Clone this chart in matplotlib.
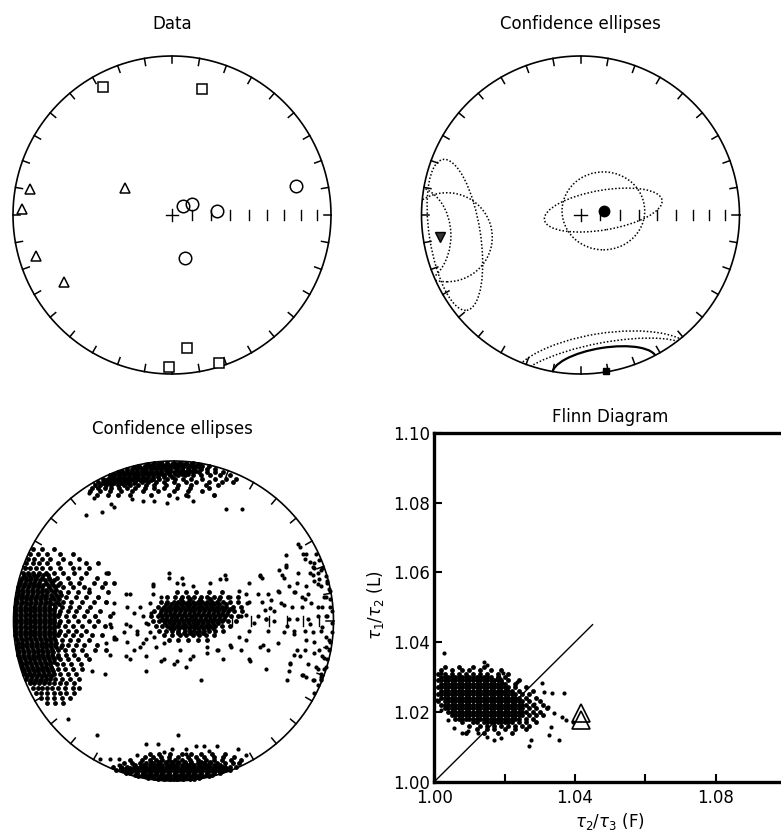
import numpy as np
import matplotlib
matplotlib.use("Agg")
import matplotlib.pyplot as plt
from matplotlib.patches import Ellipse, Circle

plt.rcParams['font.family'] = ['DejaVu Sans']

W, H = 781, 839

# ---------------- Panel 1: data (equal-area coords, primitive radius = 100) ----
V1_U = [-43.4, 19.1, 9.2, -1.9, 29.6]
V1_V = [80.3, 79.0, -83.9, -95.6, -92.9]
V2_U = [-89.1, -94.5, -29.4, -85.7, -68.1]
V2_V = [16.2, 3.6, 17.2, -25.6, -42.1]
V3_U = [78.0, 7.1, 12.4, 28.3, 8.4]
V3_V = [18.2, 5.7, 7.1, 2.5, -26.8]

# ---------------- Panel 2: means and confidence ellipses -----------------------
MEAN_V1 = (15.8, -98.1)
MEAN_V2 = (-88.4, -14.0)
MEAN_V3 = (14.8, 2.7)
ELL_CX = [14.4, 14.3, -79.0, -84.0, -105.0, 14.0, 14.0, 15.0]
ELL_CY = [2.6, 3.1, -12.5, -14.0, -13.0, -96.0, -96.0, -95.0]
ELL_W = [52, 75, 32, 57, 47, 116, 112, 66]
ELL_H = [49, 25, 96, 56, 62, 43, 31, 23]
ELL_ANG = [0, 9.6, 9, 0, 0, 9, 11, 9]
ELL_STYLE = ['dotted'] * 7 + ['solid']

# ---------------- Panel 3: bootstrap eigenvectors (rows: v, [u...]) -----------
TOP_ROWS = [
    (99, [-12, -8, -4, 0, 4, 8, 12]),
    (97, [-22, -18, -15, -12, -9, -6, -3, 0, 3, 6, 10, 14, 18, 22]),
    (95, [-29, -26, -23, -20, -17, -14, -11, -8, -5, -2, 2, 5, 9, 13, 17, 21, 26]),
    (93, [-35, -32, -29, -26, -23, -20, -17, -14, -11, -8, -4, 0, 4, 8, 12, 16, 21, 26, 31]),
    (91, [-40, -37, -34, -31, -28, -25, -22, -19, -16, -13, -10, -6, -2, 3, 7, 12, 17, 23, 29, 35]),
    (89, [-44, -41, -38, -35, -32, -29, -26, -23, -20, -17, -13, -9, -4, 1, 6, 11, 18, 26, 33, 39]),
    (87, [-47, -44, -41, -38, -35, -31, -28, -24, -20, -16, -11, -6, 0, 8, 14, 22, 30, 37]),
    (85, [-49, -46, -42, -39, -35, -31, -27, -22, -17, -12, -5, 3, 11, 20, 28]),
    (83, [-51, -47, -43, -39, -34, -29, -24, -18, -12, -6, 2, 10, 22]),
    (81, [-52, -46, -40, -33, -26, -19, -10, 0, 9, 18]),
    (79, [-48, -41, -35, -27, -14, -3, 8, 25]),
]
TOP_CORE = [
    (98, [-16, -13, -10, -7, -4, -1, 2, 5, 8, 11, 15]),
    (96, [-25, -21, -18, -15, -12, -9, -6, -3, 0, 3, 6, 9, 12, 16]),
    (94, [-32, -29, -26, -23, -20, -17, -14, -11, -8, -5, -2, 2, 6, 10, 14]),
    (92, [-37, -34, -31, -28, -25, -22, -19, -16, -13, -10, -7, -3, 1, 5, 9]),
    (90, [-40, -37, -34, -31, -28, -25, -22, -19, -16, -13, -10, -6, -1]),
    (88, [-42, -39, -36, -33, -30, -27, -24, -21, -18, -14]),
    (86, [-44, -40, -37, -33, -29, -25]),
]
BOTTOM_ROWS = [
    (-99, [-10, -6, -2, 2, 6, 10, 13]),
    (-97, [-22, -18, -14, -10, -6, -2, 2, 6, 10, 14, 18, 22]),
    (-95, [-30, -27, -23, -19, -15, -11, -7, -3, 1, 5, 9, 13, 17, 21, 25, 29]),
    (-93, [-36, -32, -28, -24, -20, -16, -12, -8, -4, 0, 4, 8, 12, 16, 20, 24, 28, 32, 35]),
    (-91, [-38, -33, -29, -25, -21, -17, -13, -9, -5, -1, 3, 7, 11, 15, 19, 23, 27, 31, 35, 39]),
    (-89, [-31, -26, -21, -17, -13, -9, -5, -1, 3, 7, 11, 15, 19, 23, 27, 32, 37, 41]),
    (-87, [-27, -20, -15, -11, -7, -3, 1, 5, 10, 15, 20, 25, 30, 36, 42]),
    (-85, [-18, -13, -8, -3, 3, 9, 14, 19, 25, 31, 38]),
    (-83, [-15, -9, -2, 5, 11, 17, 24, 32]),
]
BOTTOM_CORE = [
    (-98, [-16, -12, -8, -4, 0, 4, 8, 12, 16]),
    (-96, [-24, -20, -16, -12, -8, -4, 0, 4, 8, 12, 16, 20, 24]),
    (-94, [-30, -26, -22, -18, -14, -10, -6, -2, 2, 6, 10, 14, 18, 22, 26, 30]),
    (-92, [-32, -27, -23, -19, -15, -11, -7, -3, 1, 5, 9, 13, 17, 21, 25, 29, 33]),
    (-90, [-24, -19, -15, -11, -7, -3, 1, 5, 9, 13, 17, 21, 25, 29]),
    (-88, [-14, -9, -5, -1, 3, 7, 11, 17, 23]),
]
LEFT_ROWS = [
    (45, [-88, -82, -75]),
    (42, [-90, -85, -79, -71, -63]),
    (39, [-91, -87, -82, -77, -69, -59]),
    (36, [-92, -88, -84, -79, -72, -65, -55, -47]),
    (33, [-93, -90, -86, -82, -77, -71, -63, -53]),
    (30, [-94, -91, -88, -84, -80, -75, -69, -62, -55, -41]),
    (27, [-95, -92, -89, -86, -82, -78, -73, -66, -58, -48]),
    (24, [-96, -93, -90, -87, -84, -80, -76, -71, -65, -59, -50, -43, -37]),
    (21, [-97, -94, -91, -88, -85, -82, -78, -74, -69, -63, -56, -45]),
    (18, [-97, -94, -91, -88, -85, -82, -79, -75, -71, -66, -60, -53, -41]),
    (15, [-98, -95, -92, -89, -86, -83, -80, -76, -72, -67, -61, -55, -47]),
    (12, [-98, -95, -92, -89, -86, -83, -80, -77, -73, -69, -64, -57, -50, -42]),
    (9, [-99, -96, -93, -90, -87, -84, -81, -78, -74, -70, -65, -59, -52]),
    (6, [-99, -96, -93, -90, -87, -84, -81, -78, -75, -71, -66, -61, -54, -46]),
    (3, [-99, -96, -93, -90, -87, -84, -81, -78, -75, -72, -67, -62, -56, -49, -40]),
    (0, [-99, -96, -93, -90, -87, -84, -81, -78, -75, -71, -66, -60, -53, -47]),
    (-3, [-99, -96, -93, -90, -87, -84, -81, -78, -75, -72, -68, -63, -57, -50, -43]),
    (-6, [-99, -96, -93, -90, -87, -84, -81, -78, -75, -71, -66, -61, -55]),
    (-9, [-99, -96, -93, -90, -87, -84, -81, -78, -75, -72, -68, -63, -58, -51, -45]),
    (-12, [-98, -95, -92, -89, -86, -83, -80, -77, -74, -70, -65, -60, -53]),
    (-15, [-98, -95, -92, -89, -86, -83, -80, -77, -74, -70, -66, -61, -56, -48]),
    (-18, [-97, -94, -91, -88, -85, -82, -79, -76, -72, -68, -63, -57, -49, -42]),
    (-21, [-97, -94, -91, -88, -85, -82, -79, -76, -72, -67, -62, -55]),
    (-24, [-96, -93, -90, -87, -84, -81, -78, -75, -71, -66, -60, -53]),
    (-27, [-95, -92, -89, -86, -83, -80, -77, -73, -69, -64, -58]),
    (-30, [-94, -91, -88, -85, -82, -79, -76, -72, -68, -63, -57]),
    (-33, [-93, -90, -87, -84, -81, -78, -75, -71, -66, -61]),
    (-36, [-92, -89, -86, -83, -80, -77, -74, -70, -65, -59]),
    (-39, [-90, -87, -84, -81, -78, -75, -71, -67, -62]),
    (-42, [-88, -85, -82, -79, -76, -72, -68, -63, -59]),
    (-45, [-86, -83, -79, -75, -71, -67, -62]),
    (-48, [-83, -79, -75, -70, -65]),
    (-51, [-79, -74, -69]),
]
LEFT_CORE = [
    (28.5, [-93.5, -90.5, -87.5, -84.5, -81.5, -78.5]),
    (25.5, [-95.5, -92.5, -89.5, -86.5, -83.5, -80.5, -77.5, -74.5]),
    (22.5, [-96.5, -93.5, -90.5, -87.5, -84.5, -81.5, -78.5, -75.5, -72.5]),
    (19.5, [-97.5, -94.5, -91.5, -88.5, -85.5, -82.5, -79.5, -76.5, -73.5]),
    (16.5, [-97.5, -94.5, -91.5, -88.5, -85.5, -82.5, -79.5, -76.5, -73.5, -70.5]),
    (13.5, [-98.5, -95.5, -92.5, -89.5, -86.5, -83.5, -80.5, -77.5, -74.5, -71.5]),
    (10.5, [-98.5, -95.5, -92.5, -89.5, -86.5, -83.5, -80.5, -77.5, -74.5, -71.5]),
    (7.5, [-98.5, -95.5, -92.5, -89.5, -86.5, -83.5, -80.5, -77.5, -74.5]),
    (4.5, [-98.5, -95.5, -92.5, -89.5, -86.5, -83.5, -80.5, -77.5, -74.5, -71.5]),
    (1.5, [-98.5, -95.5, -92.5, -89.5, -86.5, -83.5, -80.5, -77.5, -74.5]),
    (-1.5, [-98.5, -95.5, -92.5, -89.5, -86.5, -83.5, -80.5, -77.5, -74.5, -71.5]),
    (-4.5, [-98.5, -95.5, -92.5, -89.5, -86.5, -83.5, -80.5, -77.5, -74.5]),
    (-7.5, [-98.5, -95.5, -92.5, -89.5, -86.5, -83.5, -80.5, -77.5, -74.5, -71.5]),
    (-10.5, [-98.5, -95.5, -92.5, -89.5, -86.5, -83.5, -80.5, -77.5, -74.5]),
    (-13.5, [-97.5, -94.5, -91.5, -88.5, -85.5, -82.5, -79.5, -76.5, -73.5]),
    (-16.5, [-97.5, -94.5, -91.5, -88.5, -85.5, -82.5, -79.5, -76.5, -73.5, -70.5]),
    (-19.5, [-96.5, -93.5, -90.5, -87.5, -84.5, -81.5, -78.5, -75.5]),
    (-22.5, [-96.5, -93.5, -90.5, -87.5, -84.5, -81.5, -78.5, -75.5, -72.5]),
    (-25.5, [-95.5, -92.5, -89.5, -86.5, -83.5, -80.5, -77.5, -74.5]),
    (-28.5, [-94.5, -91.5, -88.5, -85.5, -82.5, -79.5, -76.5]),
    (-31.5, [-93.5, -90.5, -87.5, -84.5, -81.5, -78.5, -75.5]),
    (-34.5, [-91.5, -88.5, -85.5, -82.5, -79.5, -76.5]),
    (-37.5, [-89.5, -86.5, -83.5, -80.5]),
]
MID_ROWS = [
    (18, [2, 8, 14, 22, 30]),
    (15, [-4, 1, 5, 9, 13, 17, 21, 25, 29, 34, 40]),
    (12, [-8, -4, 0, 3, 6, 9, 12, 15, 18, 21, 24, 27, 31, 35, 40]),
    (9, [-10, -6, -3, 0, 3, 6, 9, 12, 15, 18, 21, 24, 27, 30, 33, 37, 42]),
    (6, [-12, -8, -5, -2, 1, 4, 7, 10, 13, 16, 19, 22, 25, 28, 31, 34, 38, 43]),
    (3, [-14, -10, -7, -4, -1, 2, 5, 8, 11, 14, 17, 20, 23, 26, 29, 32, 36, 40]),
    (0, [-13, -9, -6, -3, 0, 3, 6, 9, 12, 15, 18, 21, 24, 27, 30, 34, 39]),
    (-3, [-11, -7, -4, -1, 2, 5, 8, 11, 14, 17, 20, 23, 26, 30, 35]),
    (-6, [-9, -5, -1, 3, 7, 10, 13, 16, 19, 22, 26, 31]),
    (-9, [-6, -1, 4, 8, 12, 16, 20, 25]),
    (-12, [-3, 3, 9, 15, 21]),
]
MID_CORE = [
    (13.5, [4.5, 10.5, 16.5, 22.5, 28.5]),
    (10.5, [-4.5, -1.5, 1.5, 4.5, 7.5, 10.5, 13.5, 16.5, 19.5, 22.5, 25.5, 28.5, 32.5]),
    (7.5, [-7.5, -4.5, -1.5, 1.5, 4.5, 7.5, 10.5, 13.5, 16.5, 19.5, 22.5, 25.5, 28.5, 31.5, 35.5]),
    (4.5, [-8.5, -5.5, -2.5, 0.5, 3.5, 6.5, 9.5, 12.5, 15.5, 18.5, 21.5, 24.5, 27.5, 30.5, 33.5]),
    (1.5, [-7.5, -4.5, -1.5, 1.5, 4.5, 7.5, 10.5, 13.5, 16.5, 19.5, 22.5, 25.5, 28.5, 31.5]),
    (-1.5, [-5.5, -2.5, 0.5, 3.5, 6.5, 9.5, 12.5, 15.5, 18.5, 21.5, 24.5, 27.5]),
    (-4.5, [-2.5, 0.5, 3.5, 6.5, 9.5, 12.5, 15.5, 18.5, 21.5, 24.5]),
    (-7.5, [2.5, 6.5, 10.5, 14.5, 18.5]),
]
BOOT_SCATTER = [
    (-55, 66), (-45, 68), (-39, 73), (-37, 71), (-26, 76), (-19, 75), (-12, 75), (-4, 74),
    (2, 77), (9, 78), (12, 75), (25, 79), (33, 70), (43, 70), (-50, 77), (-53, 80),
    (-48, -71), (3, -71), (-17, -77), (-10, -77), (-1, -80), (-6, -82), (8, -80), (8, -83),
    (14, -78), (19, -78), (27, -78), (22, -81), (-46, -86), (-40, -86), (-34, -86),
    (-23, -84), (-34, -90), (-30, -92), (45, -84), (40, -80), (-66, -61),
    (-59, 33), (-42, 30), (-53, 20), (-47, 15), (-42, 12), (-49, 3), (-40, -2), (-37, -11),
    (-42, -14), (-51, -31), (-43, -33), (-29, 9), (-27, 17), (-30, -2), (-23, -6), (-17, -11),
    (-25, -18), (-17, -31), (-16, -2), (-3, 30), (-13, 23), (5, 27), (17, -37), (4, -18),
    (10, -24), (0, -27), (-8, -25), (21, -16), (28, -18), (35, -15),
    (33, 26), (47, 24), (54, 28), (35, 15), (46, 11), (42, 3), (47, -6), (47, -24), (58, -30),
    (54, -16), (58, 1), (66, 18), (60, 8), (69, 10), (72, 1), (75, -6), (70, 35), (68, 29),
    (75, 18), (73, -26), (79, -22), (81, -34), (71, -37), (80, 15), (85, -2),
    (79, 46), (83, 42), (88, 36), (92, 32), (90, 23), (94, 15), (90, 9), (95, 3), (92, -6),
    (97, -12), (91, -18), (89, -29), (92, -35), (88, -37), (94, -23), (98, 9), (98, 19), (96, 25),
    (78, 48), (81, 42), (82, 39), (70, 41), (70, 34), (66, 32), (69, 27), (54, 29), (55, 27),
    (85, 30), (87, 34), (78, 30), (77, 24), (83, 22), (84, 17), (82, 14), (76, 18), (72, 22),
    (65, 19), (59, 17), (53, 17), (45, 17), (41, 19), (47, 12), (55, 12), (61, 13), (67, 11),
    (74, 9), (80, 9), (86, 11), (93, 9), (95, 15), (96, 3), (90, 3), (84, 1), (77, 1), (71, -3),
    (63, 0), (58, 1), (53, 3), (50, -1), (45, 4), (57, 7), (63, 6), (59, -6), (69, -7), (75, -8),
    (82, -6), (87, -7), (93, -4), (95, -10), (88, -13), (83, -12), (77, -18), (82, -18),
    (88, -20), (93, -22), (95, -29), (90, -30), (84, -27), (75, -21), (73, -27), (72, -31),
    (80, -34), (83, -35), (87, -37), (92, -33), (92, -37), (59, -18), (65, -14), (56, -15),
    (48, -25), (45, -12), (41, -10), (36, -16), (42, -18), (95, -16),
    (95, 28), (96, 24), (97, 20), (98, 14), (99, 6), (99, -1), (99, -7), (98, -13), (97, -18),
    (96, -24), (94, -30), (92, -36), (90, -40), (88, -45), (93, 33), (91, 38), (89, 42),
    (85, 37), (88, 33), (90, 30), (87, 29), (91, 26), (88, 25), (92, 22),
    (-3, 27), (-13, 22), (-30, 17), (-37, 11), (-38, 5), (-39, -4), (-36, -11), (-29, -13),
    (-31, -7), (-27, -3), (-25, 5), (-21, 9), (-19, 3), (-23, -8), (-19, -14), (-27, -24),
    (-17, -22), (-11, -16), (-6, -24), (2, -25), (8, -29), (12, -22), (21, -20), (27, -18),
    (31, -24), (2, 24), (6, 23), (12, 22), (23, 24), (29, 26), (32, 29), (-13, 17), (-8, 15),
    (-15, 11), (-14, 5), (-17, -1), (-15, -7), (-12, -10), (-6, -14), (-21, -16), (-30, -22),
    (-40, -21), (-37, -10),
]

# ---------------- Panel 4: Flinn diagram (values as (ratio - 1) * 1000) ------
FLINN_ROWS = [
    (33, [3, 7, 11, 14]),
    (32, [2, 5, 8, 10, 13, 16, 19]),
    (31, [1, 3, 5, 7, 9, 11, 13, 15, 18, 21]),
    (30, [2, 4, 6, 8, 10, 12, 14, 16, 18, 20]),
    (29, [1, 3, 5, 7, 9, 11, 13, 15, 17, 19, 21, 24]),
    (28, [2, 4, 6, 8, 10, 12, 14, 16, 18, 20, 23]),
    (27, [1, 3, 5, 7, 9, 11, 13, 15, 17, 19, 21, 23, 26]),
    (26, [2, 4, 6, 8, 10, 12, 14, 16, 18, 20, 22, 24, 28]),
    (25, [1, 3, 5, 7, 9, 11, 13, 15, 17, 19, 21, 23, 25, 27]),
    (24, [2, 4, 6, 8, 10, 12, 14, 16, 18, 20, 22, 24, 26, 29]),
    (23, [1, 3, 5, 7, 9, 11, 13, 15, 17, 19, 21, 23, 25, 27, 30]),
    (22, [2, 4, 6, 8, 10, 12, 14, 16, 18, 20, 22, 24, 26, 28, 31]),
    (21, [3, 5, 7, 9, 11, 13, 15, 17, 19, 21, 23, 25, 27, 29, 32]),
    (20, [4, 6, 8, 10, 12, 14, 16, 18, 20, 22, 24, 26, 28, 30]),
    (19, [5, 7, 9, 11, 13, 15, 17, 19, 21, 23, 25, 27, 29, 31]),
    (18, [6, 8, 10, 12, 14, 16, 18, 20, 22, 24, 26, 28]),
    (17, [8, 11, 14, 16, 18, 20, 22, 24, 26, 29]),
    (16, [10, 13, 15, 17, 19, 21, 23, 25, 27]),
    (15, [12, 15, 17, 20, 23, 26]),
    (14, [9, 14, 18, 22]),
]
FLINN_CORE = [
    (30, [3, 5, 7, 9, 11, 13, 15]),
    (29, [2, 4, 6, 8, 10, 12, 14, 16, 18]),
    (28, [3, 5, 7, 9, 11, 13, 15, 17, 19]),
    (27, [2, 4, 6, 8, 10, 12, 14, 16, 18, 20]),
    (26, [3, 5, 7, 9, 11, 13, 15, 17, 19, 21]),
    (25, [2, 4, 6, 8, 10, 12, 14, 16, 18, 20, 22]),
    (24, [3, 5, 7, 9, 11, 13, 15, 17, 19, 21, 23]),
    (23, [4, 6, 8, 10, 12, 14, 16, 18, 20, 22, 24]),
    (22, [3, 5, 7, 9, 11, 13, 15, 17, 19, 21, 23, 25]),
    (21, [4, 6, 8, 10, 12, 14, 16, 18, 20, 22, 24]),
    (20, [5, 7, 9, 11, 13, 15, 17, 19, 21, 23, 25]),
    (19, [6, 8, 10, 12, 14, 16, 18, 20, 22, 24]),
    (18, [7, 9, 11, 13, 15, 17, 19, 21, 23]),
    (17, [12, 15, 17, 19, 21]),
]
FLINN_SCATTER = [
    (2.8, 36.8), (14, 34.4), (15.1, 33.5), (19.4, 31.1), (23.6, 28.7), (30.7, 28.4),
    (31.2, 25.8), (33.6, 25.3), (36.9, 25.3), (28.4, 22.4), (32.2, 21.5), (34, 19.6),
    (36.4, 18.6), (37.4, 17.7), (33.1, 15.8), (32.6, 13.4), (35.5, 12), (27.4, 12),
    (27, 10.1), (18.9, 12.4), (17, 12), (15.1, 12.9), (12.3, 13.9), (9.5, 14.4), (8, 13.9),
    (5.7, 15.3), (3.8, 17.7), (1.9, 20.5), (0.9, 23.4), (1.9, 31.1), (39.5, 17.2),
]
FLINN_TRI_F = [1.0416, 1.0416, 1.0184]
FLINN_TRI_L = [1.0198, 1.0176, 1.0282]
FLINN_LINE = [1.0, 1.045]
FLINN_TICKS = [1.00, 1.02, 1.04, 1.06, 1.08, 1.10]
FLINN_XLABELS = ['1.00', '', '1.04', '', '1.08', '']
FLINN_YLABELS = ['1.00', '1.02', '1.04', '1.06', '1.08', '1.10']

DENSE_MS = 3.5
SPARSE_MS = 3.0


def rows_to_xy(rows):
    xs, ys = [], []
    for yv, xl in rows:
        for xv in xl:
            xs.append(xv)
            ys.append(yv)
    return np.array(xs, float), np.array(ys, float)


fig = plt.figure(figsize=(W / 100, H / 100), dpi=100)


def net_axes(cx, cy, R):
    half = 1.05 * R
    ax = fig.add_axes([(cx - half) / W, (H - cy - half) / H, 2 * half / W, 2 * half / H])
    ax.set_xlim(-105, 105)
    ax.set_ylim(-105, 105)
    ax.axis('off')
    t = np.linspace(0, 2 * np.pi, 500)
    ax.plot(100 * np.cos(t), 100 * np.sin(t), color='k', lw=1.2, zorder=2)
    for d in np.radians(np.arange(0, 360, 10)):
        ax.plot([100 * np.sin(d), 95.5 * np.sin(d)], [100 * np.cos(d), 95.5 * np.cos(d)],
                color='k', lw=1.1, zorder=2)
    for inc in range(10, 90, 10):
        r = 100 * np.sqrt(1 - np.sin(np.radians(inc)))
        ax.plot([r, r], [-3.2, 3.2], color='k', lw=1.0, zorder=2)
    ax.plot([-3.8, 3.8], [0, 0], color='k', lw=1.0, zorder=2)
    ax.plot([0, 0], [-3.7, 3.7], color='k', lw=1.0, zorder=2)
    return ax


def title(x, y, s):
    fig.text(x / W, 1 - y / H, s, ha='center', va='baseline', fontsize=12)


# Panel 1
ax1 = net_axes(172, 215, 159)
ax1.plot(V1_U, V1_V, 's', ms=7.6, mfc='white', mec='k', mew=1.1, zorder=3)
ax1.plot(V2_U, V2_V, '^', ms=6.5, mfc='white', mec='k', mew=1.1, zorder=3)
ax1.plot(V3_U, V3_V, 'o', ms=9.0, mfc='none', mec='k', mew=1.1, zorder=3)
title(172, 29, 'Data')

# Panel 2
ax2 = net_axes(580.5, 215, 159)
clip = Circle((0, 0), 100, transform=ax2.transData)
for cx, cy, w, h, a, st in zip(ELL_CX, ELL_CY, ELL_W, ELL_H, ELL_ANG, ELL_STYLE):
    ls = (0, (1, 1.3)) if st == 'dotted' else '-'
    lw = 1.1 if st == 'dotted' else 1.6
    e = Ellipse((cx, cy), w, h, angle=a, fill=False, ec='k', lw=lw, ls=ls, zorder=3)
    ax2.add_patch(e)
    e.set_clip_path(clip)
ax2.plot([MEAN_V3[0]], [MEAN_V3[1]], 'o', ms=7.5, color='k', zorder=4)
ax2.plot([MEAN_V2[0]], [MEAN_V2[1]], 'v', ms=7, mfc='#333333', mec='k', zorder=4)
ax2.plot([MEAN_V1[0]], [MEAN_V1[1]], 's', ms=4.5, color='k', zorder=4)
title(580.5, 29, 'Confidence ellipses')

# Panel 3
ax3 = net_axes(173.5, 621, 160)
for rows in (TOP_ROWS, TOP_CORE, BOTTOM_ROWS, BOTTOM_CORE, LEFT_ROWS, LEFT_CORE,
             MID_ROWS, MID_CORE):
    xs, ys = rows_to_xy(rows)
    ax3.plot(xs, ys, 'o', ms=DENSE_MS, color='k', mew=0, zorder=3)
sx = [p[0] for p in BOOT_SCATTER]
sy = [p[1] for p in BOOT_SCATTER]
ax3.plot(sx, sy, 'o', ms=SPARSE_MS, color='k', mew=0, zorder=3)
title(172.5, 434, 'Confidence ellipses')

# Panel 4: Flinn
left, right, top, bottom = 434.3, 786.0, 432.7, 781.7
ax4 = fig.add_axes([left / W, (H - bottom) / H, (right - left) / W, (bottom - top) / H])
ax4.set_xlim(1.0, 1.10)
ax4.set_ylim(1.0, 1.10)
ax4.plot(FLINN_LINE, FLINN_LINE, color='k', lw=1.0, zorder=2)
for rows in (FLINN_ROWS, FLINN_CORE):
    fx, fy = rows_to_xy(rows)
    ax4.plot(1 + fx / 1000, 1 + fy / 1000, 'o', ms=DENSE_MS, color='k', mew=0, zorder=3)
ax4.plot([1 + p[0] / 1000 for p in FLINN_SCATTER], [1 + p[1] / 1000 for p in FLINN_SCATTER],
         'o', ms=SPARSE_MS, color='k', mew=0, zorder=3)
ax4.plot(FLINN_TRI_F, FLINN_TRI_L, '^', ms=13, mfc='none', mec='k', mew=1.2, zorder=4)
ax4.set_xticks(FLINN_TICKS)
ax4.set_xticklabels(FLINN_XLABELS)
ax4.set_yticks(FLINN_TICKS)
ax4.set_yticklabels(FLINN_YLABELS)
ax4.tick_params(direction='in', length=5.8, width=1.5, labelsize=12, top=False, right=False)
ax4.tick_params(axis='x', pad=5)
ax4.tick_params(axis='y', pad=3)
for s in ax4.spines.values():
    s.set_linewidth(2.4)
title(610, 422, 'Flinn Diagram')
fig.text(610 / W, 1 - 821 / H, r'$\tau_2/\tau_3$ (F)', ha='center', va='center', fontsize=12)
fig.text(375 / W, 1 - 605 / H, r'$\tau_1/\tau_2$ (L)', ha='center', va='center', fontsize=12,
         rotation=90)

fig.savefig('out.png', dpi=100)
